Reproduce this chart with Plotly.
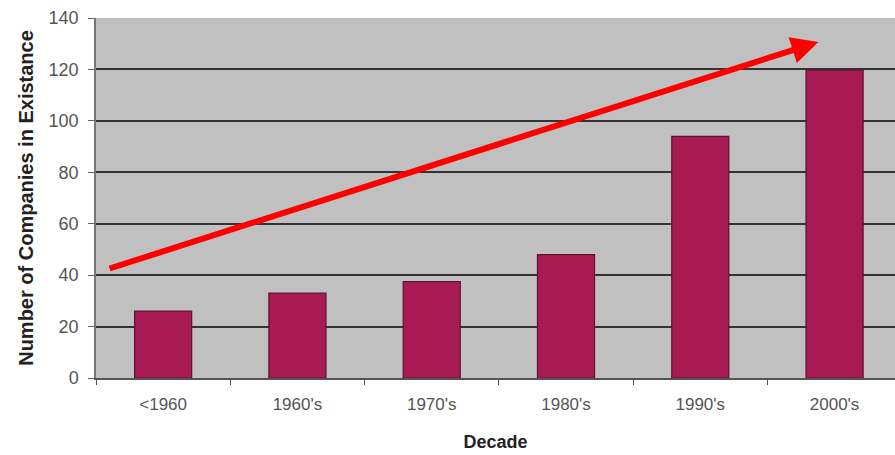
import plotly.graph_objects as go

categories = ["<1960", "1960's", "1970's", "1980's", "1990's", "2000's"]
companies = [26, 33, 37.5, 48, 94, 119.7]
y_ticks = [0, 20, 40, 60, 80, 100, 120, 140]
arrow_start = (-0.41, 42.4)
arrow_end = (4.88, 130.7)

fig = go.Figure()
fig.add_trace(go.Bar(
    x=categories, y=companies, width=0.425,
    marker=dict(color="#A81B52", line=dict(color="#5C1030", width=1.2)),
))

fig.add_annotation(
    x=arrow_end[0], y=arrow_end[1], ax=arrow_start[0], ay=arrow_start[1],
    xref="x", yref="y", axref="x", ayref="y",
    showarrow=True, arrowhead=2, arrowsize=0.9, arrowwidth=6,
    arrowcolor="#FF0000", text="", standoff=0,
)

fig.update_layout(
    width=895, height=455,
    margin=dict(l=96, r=0, t=18, b=77),
    paper_bgcolor="white", plot_bgcolor="#C0C0C0",
    showlegend=False, bargap=0.575,
    font=dict(family="Liberation Sans, Arial, sans-serif", color="#444444", size=13),
)
fig.update_xaxes(
    range=[-0.5, 5.45], tickson="boundaries", ticks="outside", ticklen=5,
    tickcolor="#555555", showline=True, linecolor="#555555", linewidth=1.5,
    showgrid=False, ticklabelstandoff=10,
    tickfont=dict(size=17, color="#555555"),
    title=dict(text="<b>Decade</b>", font=dict(size=18, color="#222222"), standoff=22),
)
fig.update_yaxes(
    range=[0, 140], tickvals=y_ticks, ticks="outside", ticklen=6,
    tickcolor="#666666", showline=True, linecolor="#777777", linewidth=1.5,
    gridcolor="#333333", gridwidth=1.5, zeroline=False, ticklabelstandoff=6,
    tickfont=dict(size=18, color="#555555"),
    title=dict(text="<b>Number of Companies in Existance</b>",
               font=dict(size=20, color="#222222"), standoff=10),
)

fig.write_html("out.html")
